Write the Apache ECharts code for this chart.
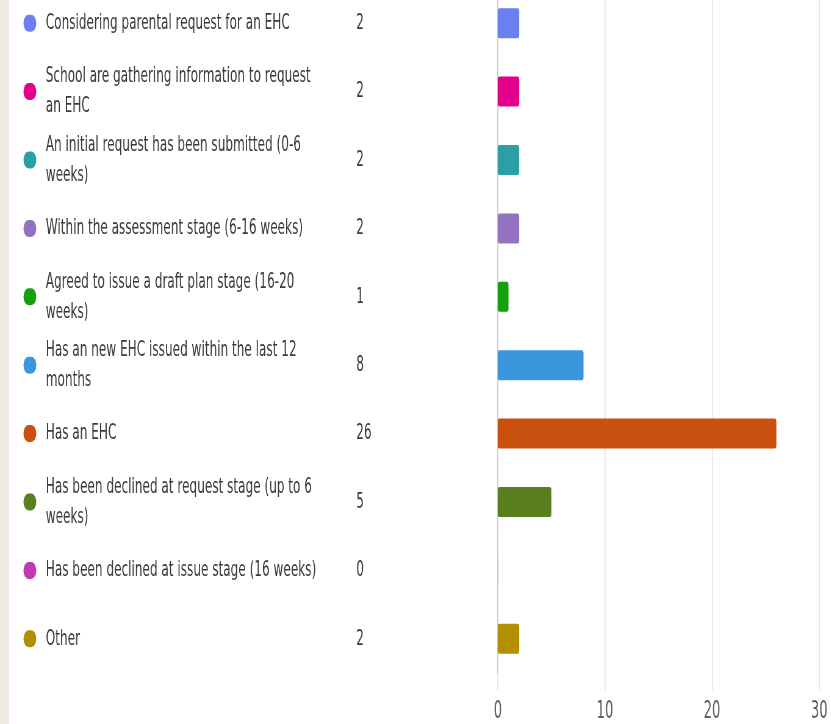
<!DOCTYPE html>
<html>
<head>
<meta charset="utf-8">
<script src="https://cdn.jsdelivr.net/npm/echarts@6/dist/echarts.min.js"></script>
<style>
  html, body { margin: 0; padding: 0; background: #edebe1; overflow: hidden; }
  #panel { position: absolute; left: 9px; top: 0; width: 822px; height: 724px; background: #fff; }
  /* the reference is squeezed sideways, so draw wider and scale down on x */
  #chart { position: absolute; left: 0; top: 0; width: 1363px; height: 724px; transform: scaleX(0.61); transform-origin: 0 0; }
</style>
</head>
<body>
<div id="panel"></div>
<div id="chart"></div>
<script>
const categories = [
  'Considering parental request for an EHC',
  'School are gathering information to request an EHC',
  'An initial request has been submitted (0-6 weeks)',
  'Within the assessment stage (6-16 weeks)',
  'Agreed to issue a draft plan stage (16-20 weeks)',
  'Has an new EHC issued within the last 12 months',
  'Has an EHC',
  'Has been declined at request stage (up to 6 weeks)',
  'Has been declined at issue stage (16 weeks)',
  'Other'
]
const counts = [2, 2, 2, 2, 1, 8, 26, 5, 0, 2]
const xTicks = [0, 10, 20, 30]

const colors = ['#6b7ff0', '#e3008c', '#2aa0a4', '#9373c0', '#13a10e',
                '#3a96dd', '#ca5010', '#5a7f1e', '#c239b3', '#b38f00']

const fontName = '"DejaVu Sans Condensed", sans-serif'
const textColor = '#3b3a39'

// coloured dot for each row
const dotRich = {}
colors.forEach((c, i) => {
  dotRich['d' + i] = { width: 21, height: 17, borderRadius: 10, backgroundColor: c }
})

const chart = echarts.init(document.getElementById('chart'))

const baseY = {
  type: 'category',
  data: categories,
  inverse: true,
  position: 'left',
  axisTick: { show: false },
  axisLine: { show: false },
  splitLine: { show: false }
}

const xRange = {
  type: 'value',
  min: xTicks[0],
  max: xTicks[xTicks.length - 1],
  interval: 10
}

const option = {
  animation: false,
  grid: [
    { left: 816, right: 20, top: -11, bottom: 51, outerBoundsMode: 'none' },
    // gridlines in the reference run a bit below the last row
    { left: 816, right: 20, top: -11, bottom: 34, outerBoundsMode: 'none' }
  ],
  xAxis: [
    { ...xRange, gridIndex: 0, show: false },
    {
      ...xRange,
      gridIndex: 1,
      axisLine: { show: false },
      axisTick: { show: false },
      axisLabel: { color: '#605e5c', fontSize: 24, fontFamily: fontName, margin: 10 },
      splitLine: { lineStyle: { color: '#e3e3e3', width: 1.6 } }
    }
  ],
  yAxis: [
    {
      ...baseY,
      axisLine: { show: true, lineStyle: { color: '#c8c6c4', width: 1.6 } },
      axisLabel: {
        interval: 0,
        margin: 767,
        align: 'center',
        formatter: (v, i) => '{d' + i + '| }',
        rich: dotRich
      }
    },
    {
      ...baseY,
      axisLabel: {
        interval: 0,
        margin: 741,
        align: 'left',
        width: 455,
        overflow: 'break',
        lineHeight: 30,
        fontSize: 22,
        fontFamily: fontName,
        color: textColor
      }
    },
    {
      ...baseY,
      axisLabel: {
        interval: 0,
        margin: 232,
        align: 'left',
        fontSize: 22,
        fontFamily: fontName,
        color: textColor,
        formatter: (v, i) => String(counts[i])
      }
    },
    { type: 'value', gridIndex: 1, show: false }
  ],
  series: [
    {
      type: 'bar',
      xAxisIndex: 0,
      yAxisIndex: 0,
      barWidth: 30,
      barMinHeight: 1,
      data: counts.map((v, i) => ({
        value: v,
        itemStyle: { color: colors[i], opacity: v === 0 ? 0.35 : 1 }
      })),
      itemStyle: { borderRadius: 3 }
    }
  ]
}

chart.setOption(option)
</script>
</body>
</html>
